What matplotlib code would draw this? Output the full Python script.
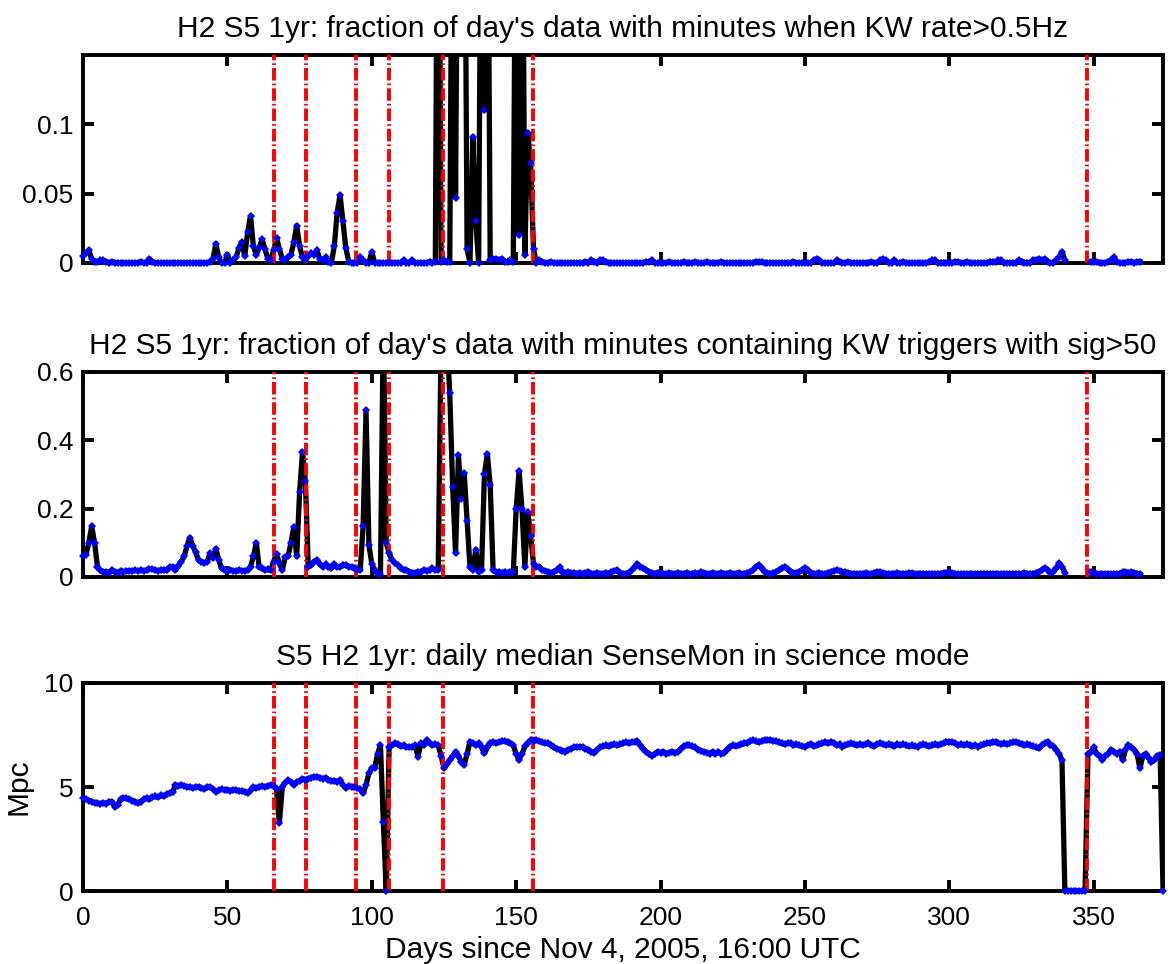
import numpy as np
import matplotlib
matplotlib.use('Agg')
import matplotlib.pyplot as plt

plt.rcParams['font.family'] = ['Liberation Sans', 'DejaVu Sans']
plt.rcParams['lines.scale_dashes'] = False

nan = np.nan

# days since Nov 4, 2005, 16:00 UTC (one value per day)
DAYS = np.arange(375)

# red dash-dot markers of special days
EVENT_DAYS = [66.1, 77.1, 94.4, 105.9, 124.6, 155.7, 347.5]

# fraction of day's data with minutes when KW rate > 0.5Hz
KW_RATE = [
    0.005, 0.007, 0.009, 0.003, 0.001, 0.001, 0.002, 0.002, 0.001, 0.000,
    0.001, 0.000, 0.000, 0.000, 0.000, 0.000, 0.000, 0.000, 0.000, 0.000,
    0.001, 0.000, 0.000, 0.003, 0.001, 0.000, 0.000, 0.000, 0.000, 0.000,
    0.000, 0.000, 0.000, 0.000, 0.000, 0.000, 0.000, 0.000, 0.000, 0.000,
    0.000, 0.000, 0.000, 0.000, 0.001, 0.003, 0.014, 0.004, 0.000, 0.000,
    0.006, 0.000, 0.002, 0.004, 0.011, 0.015, 0.005, 0.022, 0.034, 0.012,
    0.006, 0.011, 0.017, 0.010, 0.003, 0.002, 0.009, 0.018, 0.010, 0.003,
    0.002, 0.004, 0.006, 0.015, 0.027, 0.012, 0.004, 0.002, 0.005, 0.007,
    0.006, 0.009, 0.003, 0.002, 0.004, 0.001, 0.000, 0.012, 0.036, 0.049,
    0.030, 0.011, 0.001, 0.000, 0.000, 0.000, 0.004, 0.002, 0.000, 0.000,
    0.008, 0.000, 0.000, 0.000, 0.000, 0.000, 0.000, 0.000, 0.000, 0.000,
    0.000, 0.002, 0.000, 0.000, 0.002, 0.000, 0.000, 0.000, 0.000, 0.000,
    0.001, 0.000, 0.001, 0.400, 0.001, 0.002, 0.001, 0.001, 0.350, 0.047,
    0.350, 0.350, 0.350, 0.010, 0.000, 0.091, 0.030, 0.000, 0.350, 0.110,
    0.350, 0.002, 0.003, 0.003, 0.002, 0.003, 0.001, 0.001, 0.002, 0.001,
    0.350, 0.020, 0.350, 0.006, 0.094, 0.072, 0.010, 0.000, 0.002, 0.001,
    0.000, 0.000, 0.001, 0.000, 0.000, 0.000, 0.000, 0.000, 0.000, 0.000,
    0.000, 0.000, 0.000, 0.000, 0.001, 0.000, 0.002, 0.001, 0.000, 0.002,
    0.002, 0.001, 0.000, 0.000, 0.000, 0.000, 0.000, 0.000, 0.000, 0.000,
    0.000, 0.000, 0.000, 0.000, 0.000, 0.001, 0.001, 0.002, 0.000, 0.000,
    0.000, 0.000, 0.000, 0.001, 0.000, 0.000, 0.000, 0.000, 0.001, 0.000,
    0.000, 0.000, 0.001, 0.000, 0.000, 0.000, 0.001, 0.000, 0.000, 0.000,
    0.000, 0.001, 0.000, 0.000, 0.000, 0.000, 0.000, 0.000, 0.000, 0.000,
    0.000, 0.000, 0.000, 0.001, 0.001, 0.001, 0.000, 0.000, 0.000, 0.000,
    0.000, 0.000, 0.000, 0.000, 0.000, 0.000, 0.001, 0.000, 0.000, 0.000,
    0.000, 0.000, 0.000, 0.002, 0.003, 0.002, 0.000, 0.000, 0.000, 0.000,
    0.000, 0.002, 0.001, 0.000, 0.000, 0.001, 0.000, 0.000, 0.000, 0.000,
    0.000, 0.000, 0.000, 0.001, 0.000, 0.000, 0.002, 0.003, 0.002, 0.000,
    0.000, 0.002, 0.000, 0.000, 0.001, 0.000, 0.000, 0.000, 0.000, 0.000,
    0.000, 0.000, 0.000, 0.001, 0.002, 0.002, 0.000, 0.000, 0.000, 0.000,
    0.000, 0.000, 0.001, 0.001, 0.000, 0.000, 0.001, 0.000, 0.000, 0.000,
    0.000, 0.000, 0.000, 0.000, 0.001, 0.001, 0.001, 0.002, 0.002, 0.000,
    0.000, 0.000, 0.000, 0.000, 0.002, 0.001, 0.000, 0.000, 0.000, 0.002,
    0.002, 0.003, 0.002, 0.003, 0.001, 0.000, 0.000, 0.002, 0.004, 0.008,
    0.002, nan, nan, nan, nan, nan, nan, nan, nan, 0.001,
    0.001, 0.001, 0.000, 0.000, 0.000, 0.001, 0.002, 0.004, 0.001, 0.000,
    0.000, 0.000, 0.001, 0.001, 0.000, 0.001, 0.001, nan, nan, nan,
    nan, nan, nan, nan, nan,
]

# fraction of day's data with minutes containing KW triggers with sig>50
KW_SIG = [
    0.060, 0.065, 0.100, 0.148, 0.100, 0.030, 0.020, 0.015, 0.015, 0.012,
    0.020, 0.015, 0.012, 0.018, 0.015, 0.017, 0.018, 0.017, 0.019, 0.018,
    0.020, 0.018, 0.020, 0.024, 0.022, 0.020, 0.018, 0.021, 0.019, 0.020,
    0.029, 0.030, 0.020, 0.032, 0.045, 0.060, 0.090, 0.115, 0.090, 0.073,
    0.049, 0.045, 0.041, 0.045, 0.070, 0.055, 0.083, 0.050, 0.025, 0.019,
    0.018, 0.020, 0.018, 0.016, 0.020, 0.018, 0.018, 0.020, 0.030, 0.060,
    0.100, 0.029, 0.025, 0.020, 0.022, 0.019, 0.045, 0.067, 0.040, 0.020,
    0.058, 0.060, 0.100, 0.146, 0.060, 0.250, 0.365, 0.280, 0.030, 0.035,
    0.045, 0.049, 0.037, 0.030, 0.037, 0.030, 0.025, 0.037, 0.030, 0.030,
    0.034, 0.034, 0.030, 0.030, 0.025, 0.020, 0.020, 0.150, 0.488, 0.093,
    0.039, 0.020, 0.010, 0.010, 0.750, 0.100, 0.070, 0.050, 0.040, 0.035,
    0.025, 0.020, 0.020, 0.015, 0.013, 0.012, 0.015, 0.015, 0.020, 0.018,
    0.020, 0.025, 0.020, 0.020, 0.700, 0.800, 0.700, 0.537, 0.264, 0.070,
    0.356, 0.228, 0.303, 0.165, 0.028, 0.020, 0.080, 0.015, 0.020, 0.300,
    0.360, 0.270, 0.020, 0.015, 0.015, 0.012, 0.015, 0.012, 0.015, 0.015,
    0.200, 0.310, 0.200, 0.030, 0.190, 0.120, 0.039, 0.030, 0.030, 0.020,
    0.018, 0.015, 0.012, 0.015, 0.020, 0.028, 0.015, 0.012, 0.015, 0.012,
    0.012, 0.010, 0.012, 0.010, 0.012, 0.015, 0.010, 0.010, 0.012, 0.010,
    0.010, 0.012, 0.010, 0.015, 0.018, 0.020, 0.012, 0.010, 0.010, 0.012,
    0.020, 0.030, 0.038, 0.030, 0.025, 0.020, 0.015, 0.012, 0.010, 0.013,
    0.012, 0.010, 0.010, 0.012, 0.010, 0.010, 0.012, 0.010, 0.010, 0.012,
    0.010, 0.010, 0.012, 0.010, 0.015, 0.012, 0.010, 0.010, 0.012, 0.010,
    0.010, 0.012, 0.010, 0.010, 0.012, 0.010, 0.010, 0.012, 0.010, 0.010,
    0.012, 0.015, 0.020, 0.030, 0.035, 0.025, 0.015, 0.012, 0.010, 0.012,
    0.015, 0.020, 0.025, 0.030, 0.022, 0.015, 0.013, 0.012, 0.015, 0.020,
    0.027, 0.020, 0.012, 0.010, 0.010, 0.012, 0.010, 0.010, 0.012, 0.015,
    0.018, 0.020, 0.018, 0.015, 0.015, 0.012, 0.010, 0.010, 0.010, 0.010,
    0.010, 0.012, 0.010, 0.010, 0.012, 0.015, 0.015, 0.012, 0.010, 0.010,
    0.010, 0.010, 0.012, 0.010, 0.010, 0.010, 0.012, 0.012, 0.010, 0.010,
    0.010, 0.010, 0.008, 0.010, 0.010, 0.010, 0.010, 0.010, 0.012, 0.012,
    0.015, 0.012, 0.010, 0.008, 0.010, 0.010, 0.008, 0.010, 0.010, 0.010,
    0.008, 0.010, 0.010, 0.010, 0.008, 0.010, 0.010, 0.008, 0.010, 0.010,
    0.010, 0.010, 0.008, 0.010, 0.010, 0.010, 0.012, 0.010, 0.010, 0.010,
    0.012, 0.015, 0.020, 0.027, 0.020, 0.013, 0.015, 0.025, 0.040, 0.030,
    0.013, nan, nan, nan, nan, nan, nan, nan, nan, 0.015,
    0.012, 0.010, 0.008, 0.010, 0.008, 0.010, 0.008, 0.008, 0.008, 0.010,
    0.015, 0.015, 0.012, 0.015, 0.013, 0.010, 0.008, nan, nan, nan,
    nan, nan, nan, nan, nan,
]

# daily median SenseMon range in science mode (Mpc)
SENSEMON = [
    4.46, 4.40, 4.35, 4.30, 4.25, 4.22, 4.20, 4.25, 4.20, 4.30,
    4.30, 4.05, 4.15, 4.40, 4.46, 4.45, 4.40, 4.35, 4.30, 4.22,
    4.30, 4.40, 4.45, 4.40, 4.50, 4.55, 4.50, 4.60, 4.55, 4.65,
    4.70, 4.75, 5.10, 5.05, 5.10, 5.05, 5.00, 5.00, 4.95, 5.00,
    5.00, 4.95, 4.90, 4.98, 5.00, 4.90, 4.78, 4.85, 4.90, 4.85,
    4.88, 4.82, 4.86, 4.85, 4.80, 4.82, 4.78, 4.70, 4.85, 5.00,
    4.95, 5.00, 5.05, 5.00, 5.05, 5.10, 5.05, 4.90, 3.27, 5.00,
    5.20, 5.34, 5.25, 5.10, 5.25, 5.30, 5.40, 5.35, 5.40, 5.45,
    5.50, 5.50, 5.45, 5.40, 5.45, 5.35, 5.30, 5.30, 5.25, 5.34,
    5.10, 4.94, 5.05, 5.00, 5.00, 4.95, 4.90, 4.70, 5.10, 5.66,
    5.90, 5.90, 6.60, 7.00, 3.30, 0.00, 6.94, 7.00, 7.10, 7.05,
    6.95, 7.00, 6.90, 6.94, 6.90, 7.00, 6.46, 7.10, 7.00, 7.26,
    7.10, 7.00, 7.05, 7.00, 6.50, 5.90, 6.10, 6.30, 6.50, 6.70,
    6.50, 6.20, 6.06, 6.60, 7.18, 7.10, 7.00, 7.10, 6.90, 6.62,
    6.90, 7.10, 7.15, 7.10, 7.15, 7.20, 7.20, 7.15, 7.10, 7.00,
    6.60, 6.30, 6.60, 6.95, 7.10, 7.26, 7.20, 7.25, 7.20, 7.15,
    7.10, 7.10, 7.00, 6.90, 6.85, 6.80, 6.75, 6.70, 6.80, 6.85,
    6.90, 6.94, 6.90, 6.94, 6.85, 6.80, 6.70, 6.65, 6.80, 6.90,
    6.95, 7.00, 6.95, 7.00, 7.05, 7.00, 7.05, 7.10, 7.15, 7.10,
    7.15, 7.18, 7.20, 7.00, 6.85, 6.70, 6.60, 6.50, 6.60, 6.70,
    6.65, 6.70, 6.60, 6.65, 6.70, 6.65, 6.70, 6.85, 6.95, 7.00,
    7.00, 6.95, 6.90, 6.80, 6.75, 6.70, 6.65, 6.60, 6.70, 6.60,
    6.70, 6.60, 6.65, 6.80, 6.94, 7.00, 6.95, 7.00, 7.05, 7.10,
    7.10, 7.20, 7.26, 7.20, 7.15, 7.20, 7.26, 7.25, 7.26, 7.20,
    7.20, 7.15, 7.10, 7.05, 7.10, 7.10, 7.00, 7.05, 7.00, 6.95,
    6.94, 7.00, 7.05, 6.95, 7.00, 7.05, 7.10, 7.15, 7.10, 7.18,
    7.10, 7.00, 7.05, 6.94, 7.00, 7.05, 7.10, 7.05, 7.00, 7.05,
    7.00, 7.05, 7.10, 7.00, 6.95, 7.05, 7.10, 7.05, 7.00, 7.05,
    7.00, 6.95, 7.05, 7.00, 7.05, 7.00, 6.95, 7.00, 6.95, 6.94,
    7.00, 7.05, 7.00, 6.95, 7.00, 7.05, 7.00, 7.05, 7.10, 7.15,
    7.18, 7.15, 7.10, 7.00, 7.05, 7.00, 7.05, 7.00, 6.95, 7.00,
    6.94, 7.00, 7.05, 7.10, 7.10, 7.18, 7.15, 7.10, 7.05, 7.10,
    7.05, 7.10, 7.15, 7.18, 7.10, 7.05, 7.00, 7.05, 7.00, 6.95,
    6.90, 6.86, 7.00, 7.10, 7.18, 7.00, 6.95, 6.80, 6.60, 6.30,
    0.00, 0.00, 0.00, 0.00, 0.00, 0.00, 0.00, 0.00, 6.60, 6.70,
    6.90, 6.60, 6.50, 6.30, 6.50, 6.60, 6.80, 6.70, 6.60, 6.70,
    6.30, 6.80, 7.00, 6.90, 6.80, 6.60, 5.90, 6.50, 6.60, 6.40,
    6.20, 6.30, 6.50, 6.55, 0.00,
]

TITLES = [
    "H2 S5 1yr: fraction of day's data with minutes when KW rate>0.5Hz",
    "H2 S5 1yr: fraction of day's data with minutes containing KW triggers with sig>50",
    "S5 H2 1yr: daily median SenseMon in science mode",
]
YMAX = [0.15, 0.6, 10]
YTICKS = [[0, 0.05, 0.1], [0, 0.2, 0.4, 0.6], [0, 5, 10]]
YTICKLABELS = [['0', '0.05', '0.1'], ['0', '0.2', '0.4', '0.6'], ['0', '5', '10']]
XTICKS = [0, 50, 100, 150, 200, 250, 300, 350]

TICK_FS = 19
LABEL_FS = 21.5


def panel(ax, values, ymax, yticks, yticklabels, title):
    y = np.array(values, dtype=float)
    ax.plot(DAYS, y, color='black', linewidth=3.8, zorder=2)
    for d in EVENT_DAYS:
        ax.axvline(d, color='red', linewidth=2.8, linestyle=(0, (9, 2.2, 1.2, 2.2)), zorder=3)
    inside = (y <= ymax)
    ax.plot(DAYS[inside], y[inside], linestyle='none', marker='D', markersize=4.0,
            markeredgewidth=0, color='blue', zorder=4, clip_on=False)
    ax.set_xlim(0, 374)
    ax.set_ylim(0, ymax)
    ax.set_yticks(yticks)
    ax.set_yticklabels(yticklabels)
    ax.set_xticks(XTICKS)
    ax.tick_params(direction='in', length=8, width=2.8, top=True, right=True,
                   labelsize=TICK_FS)
    ax.tick_params(axis='y', pad=7)
    ax.tick_params(axis='x', pad=11)
    for s in ax.spines.values():
        s.set_linewidth(2.8)
    ax.set_title(title, fontsize=LABEL_FS, pad=13)


fig = plt.figure(figsize=(11.71, 9.64), dpi=100)
rects = [
    [0.0709, 0.7272, 0.9223, 0.2158],
    [0.0709, 0.4015, 0.9223, 0.2127],
    [0.0709, 0.0757, 0.9223, 0.2158],
]
series = [KW_RATE, KW_SIG, SENSEMON]
axes = []
for i in range(3):
    ax = fig.add_axes(rects[i])
    panel(ax, series[i], YMAX[i], YTICKS[i], YTICKLABELS[i], TITLES[i])
    axes.append(ax)

axes[0].set_xticklabels([])
axes[1].set_xticklabels([])
axes[2].set_xlabel('Days since Nov 4, 2005, 16:00 UTC', fontsize=LABEL_FS, labelpad=4)
axes[2].set_ylabel('Mpc', fontsize=LABEL_FS, labelpad=8)

fig.savefig('out.png', dpi=100)
